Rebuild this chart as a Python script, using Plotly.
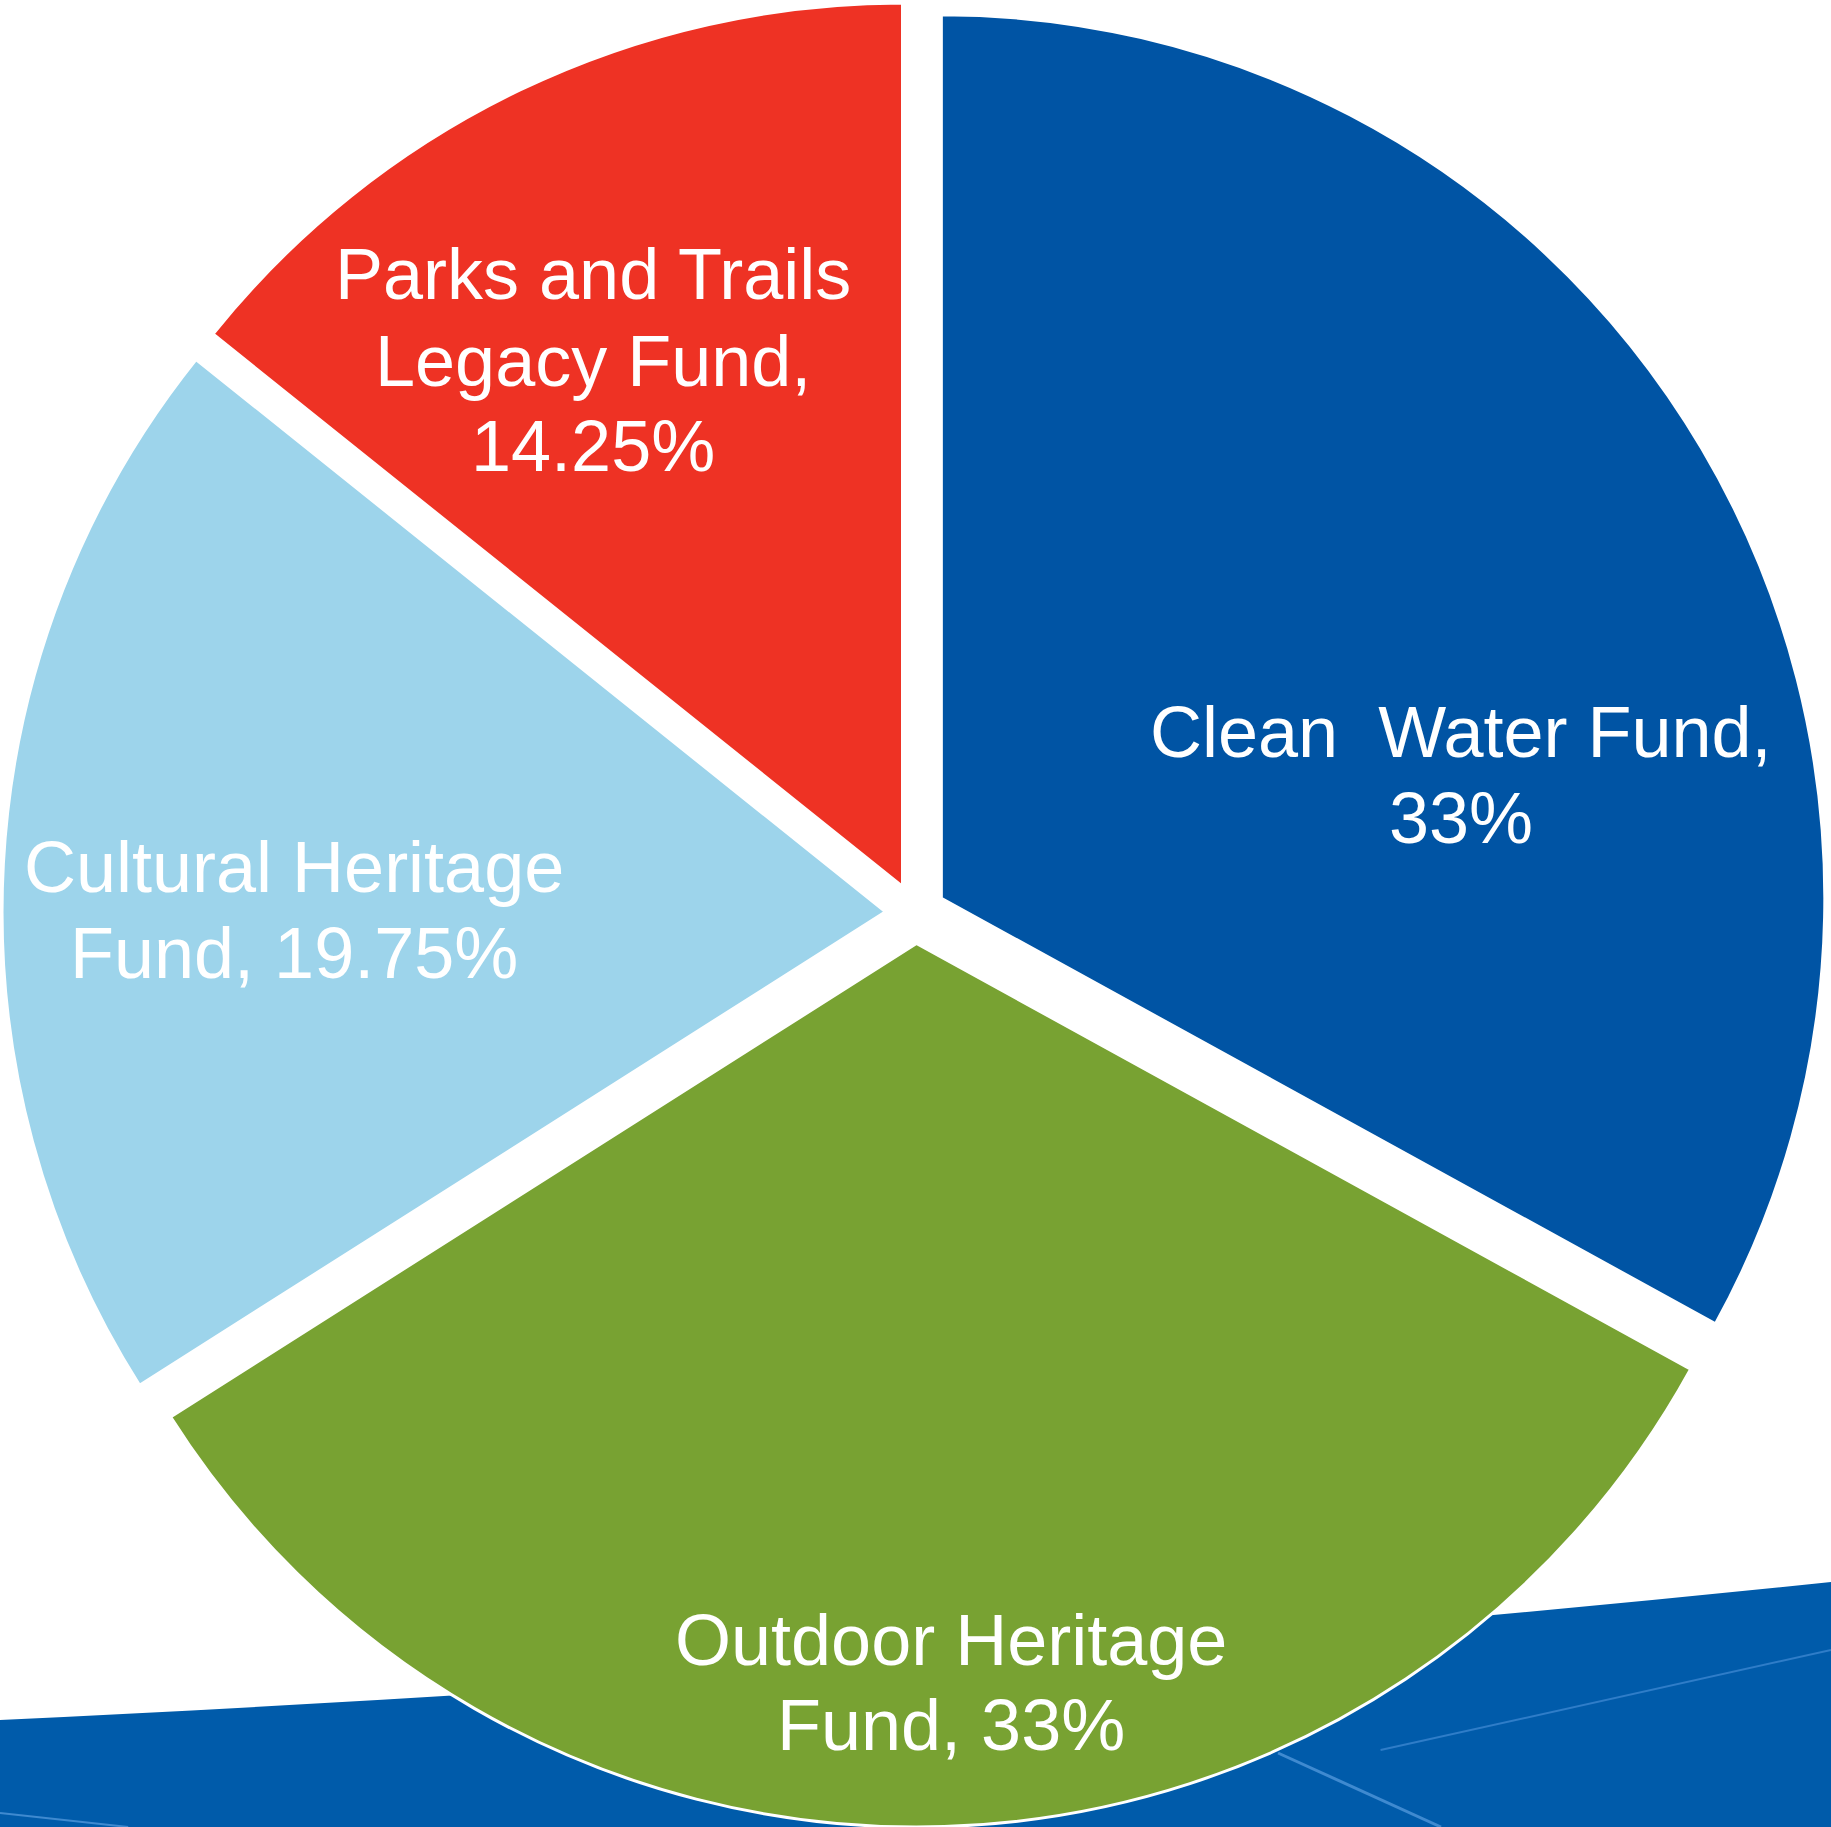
import plotly.graph_objects as go

labels = ["Clean Water Fund", "Outdoor Heritage Fund", "Cultural Heritage Fund", "Parks and Trails Legacy Fund"]
values = [33, 33, 19.75, 14.25]
colors = ["#0054A4", "#78A232", "#9DD4EB", "#EE3224"]

# label text lines and their placement (pixel coords) for each slice
label_lines = [
    ["Clean  Water Fund,", "33%"],
    ["Outdoor Heritage", "Fund, 33%"],
    ["Cultural Heritage", "Fund, 19.75%"],
    ["Parks and Trails", "Legacy Fund,", "14.25%"],
]
label_x_px = [1461, 951, 294, 593]
label_y_px = [[732, 818], [1640, 1725], [867, 953], [274, 361, 446]]

W, H = 1831, 1827

fig = go.Figure()
fig.add_trace(go.Pie(
    labels=labels,
    values=values,
    sort=False,
    direction="clockwise",
    rotation=0,
    pull=[0.034, 0.034, 0.034, 0.034],
    marker=dict(colors=colors, line=dict(color="white", width=3)),
    textinfo="none",
    hoverinfo="label+percent",
    showlegend=False,
    domain=dict(x=[0, 1], y=[0, 1]),
))

annotations = []
for lines, xp, ys in zip(label_lines, label_x_px, label_y_px):
    for line, yp in zip(lines, ys):
        annotations.append(dict(
            x=xp / W, y=1 - yp / H, xref="paper", yref="paper",
            text=line, showarrow=False, xanchor="center", yanchor="middle",
            font=dict(family="Liberation Sans, Arial, sans-serif", size=72, color="white"),
        ))

shapes = [
    dict(type="path", xref="paper", yref="paper", layer="below",
         path="M 0,0.0586 C 0.33,0.074 0.67,0.100 1,0.1341 L 1,0 L 0,0 Z",
         fillcolor="#005BAA", line=dict(width=0)),
    dict(type="line", xref="paper", yref="paper", layer="below",
         x0=0.698, y0=1 - 1753 / H, x1=0.787, y1=0,
         line=dict(color="#3F8AD0", width=3)),
    dict(type="line", xref="paper", yref="paper", layer="below",
         x0=0.754, y0=1 - 1750 / H, x1=1.0, y1=1 - 1650 / H,
         line=dict(color="#2F7DC8", width=2)),
    dict(type="line", xref="paper", yref="paper", layer="below",
         x0=0.0, y0=1 - 1813 / H, x1=0.07, y1=0,
         line=dict(color="#3F8AD0", width=2)),
]

fig.update_layout(
    width=W, height=H,
    margin=dict(l=0, r=0, t=0, b=0),
    paper_bgcolor="white",
    plot_bgcolor="white",
    annotations=annotations,
    shapes=shapes,
)

fig.write_html("out.html", config={"displayModeBar": False},
               post_script="document.body.style.margin='0px';")
